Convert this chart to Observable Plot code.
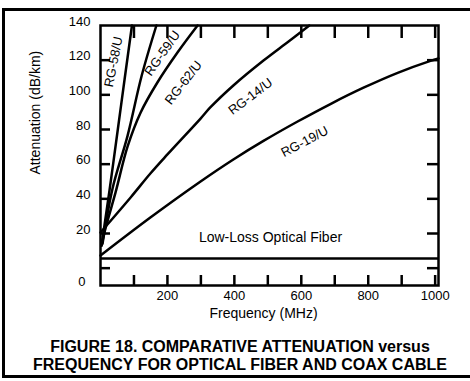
<!DOCTYPE html>
<html><head><meta charset="utf-8">
<script src="https://cdn.jsdelivr.net/npm/d3@7"></script>
<script src="https://cdn.jsdelivr.net/npm/@observablehq/plot@0.6"></script>
<style>
html,body{margin:0;padding:0;background:#fff;overflow:hidden;width:470px;height:381px;}
#box{position:absolute;left:2px;top:8px;width:480px;height:364px;border:3px solid #000;border-right:none;}
#chart{position:absolute;left:0;top:0;}
#caption{position:absolute;left:0;top:338px;width:480px;text-align:center;font:bold 16px "Liberation Sans",Arial,Helvetica,sans-serif;line-height:18px;color:#000;}
</style></head><body>
<div id="box"></div>
<div id="chart"></div>
<div id="caption">FIGURE 18. COMPARATIVE ATTENUATION versus<br>FREQUENCY FOR OPTICAL FIBER AND COAX CABLE</div>
<script>
// Frequency (MHz) and attenuation (dB/km)
const rg58Freq = [3, 27, 51, 72, 94];
const rg58Atten = [13, 45, 79, 109, 140];
const rg59Freq = [6, 36, 81, 123, 167];
const rg59Atten = [14, 46, 76.5, 111, 140];
const rg62Freq = [3, 15, 45, 81, 120, 170, 230, 290];
const rg62Atten = [13, 23, 43.7, 70.2, 89.8, 107.1, 124.4, 140];
const rg14Freq = [0, 90, 149, 200, 299, 328, 397, 487, 562, 624];
const rg14Atten = [20.6, 40.8, 54.6, 65.6, 86.3, 92.7, 105.4, 119.8, 130.8, 140];
const rg19Freq = [0, 149, 299, 397, 487, 589, 687, 786, 888, 986, 1010];
const rg19Atten = [7.3, 29.2, 50.0, 62.7, 73.4, 84.6, 94.7, 104.1, 112.7, 119.6, 121];
const fiberAtten = 5.6;

const cableNames = ["RG-58/U", "RG-59/U", "RG-62/U", "RG-14/U", "RG-19/U"];
const labelFreq = [39, 185, 248, 448, 610];
const labelAtten = [119, 124, 107, 99, 73];
const fiberLabel = "Low-Loss Optical Fiber";
const fiberLabelFreq = 508;
const fiberLabelAtten = 17.7;

const xDomain = [0, 1010];
const yDomain = [-10, 140];
const xTicks = [100, 200, 300, 400, 500, 600, 700, 800, 900, 1000];
const xTickLabels = [200, 400, 600, 800, 1000];
const yTicks = [0, 20, 40, 60, 80, 100, 120];
const yTickLabels = [0, 20, 40, 60, 80, 100, 120, 140];
const xTitle = "Frequency (MHz)";
const yTitle = "Attenuation (dB/km)";

const labelAngles = [-79, -55, -52, -37, -28];

const seriesFreq = [rg58Freq, rg59Freq, rg62Freq, rg14Freq, rg19Freq];
const seriesAtten = [rg58Atten, rg59Atten, rg62Atten, rg14Atten, rg19Atten];
const rows = seriesFreq.flatMap((fs, s) => fs.map((f, i) => ({cable: cableNames[s], freq: f, atten: seriesAtten[s][i]})));
const labels = cableNames.map((c, i) => ({cable: c, freq: labelFreq[i], atten: labelAtten[i], angle: labelAngles[i]}));

const font = '"Liberation Sans", Arial, Helvetica, sans-serif';
const W = 2.5;
const plain = d => String(d);

const chart = Plot.plot({
  width: 470, height: 325,
  marginLeft: 100, marginRight: 32, marginTop: 25, marginBottom: 40,
  style: {fontFamily: font, fontSize: "13px", color: "#000", background: "transparent", overflow: "visible"},
  x: {domain: xDomain, axis: null},
  y: {domain: yDomain, axis: null},
  marks: [
    Plot.axisX(xTicks, {anchor: "bottom", tickSize: -10, strokeWidth: W, tickFormat: () => "", label: null}),
    Plot.axisX(xTicks, {anchor: "top", tickSize: -12, strokeWidth: W, tickFormat: () => "", label: null}),
    Plot.axisY(yTicks, {anchor: "left", tickSize: -10, strokeWidth: W, tickFormat: () => "", label: null}),
    Plot.axisY(yTicks, {anchor: "right", tickSize: -12, strokeWidth: W, tickFormat: () => "", label: null}),
    Plot.axisX(xTickLabels, {anchor: "bottom", tickSize: 0, tickPadding: 5, tickFormat: plain, label: null, fontSize: 13}),
    Plot.axisY(yTickLabels.filter(v => v > 0), {anchor: "left", tickSize: 0, tickPadding: 10, dy: -4, tickFormat: plain, label: null, fontSize: 13}),
    Plot.text([String(yTickLabels[0])], {frameAnchor: "bottom-left", dx: -15, textAnchor: "end", fontSize: 13}),
    Plot.text([xTitle], {frameAnchor: "bottom", dy: 32, dx: -6, fontSize: 14}),
    Plot.text([yTitle], {frameAnchor: "left", rotate: -90, dx: -65, dy: 19, fontSize: 14}),
    Plot.ruleY([fiberAtten], {strokeWidth: W}),
    Plot.line(rows, {x: "freq", y: "atten", z: "cable", strokeWidth: W, curve: "catmull-rom"}),
    Plot.text(labels, {x: "freq", y: "atten", text: "cable", rotate: "angle", fontSize: 13}),
    Plot.text([fiberLabel], {x: () => fiberLabelFreq, y: () => fiberLabelAtten, fontSize: 14}),
    Plot.frame({strokeWidth: W})
  ]
});
document.getElementById("chart").appendChild(chart);
</script>
</body></html>
